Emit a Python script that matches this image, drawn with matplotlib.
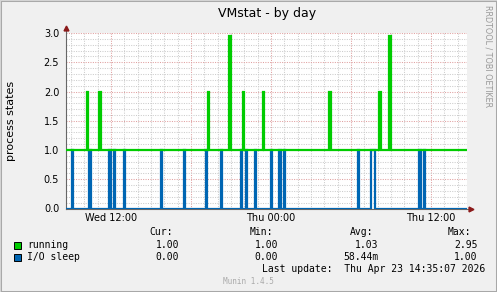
import numpy as np
import matplotlib
matplotlib.use('Agg')
import matplotlib.pyplot as plt
from matplotlib.patches import Rectangle

W, H = 497, 292

# time axis in hours since Wed 00:00
t_start, t_end = 8.59, 38.70
tick_hours = [12, 24, 36]
tick_labels = ['Wed 12:00', 'Thu 00:00', 'Thu 12:00']
y_ticks = [0.0, 0.5, 1.0, 1.5, 2.0, 2.5, 3.0]

running_base = 1.0
running_spike_at = [10.27, 11.20, 19.37, 20.90, 21.94, 23.44, 28.46, 32.14, 32.89]
running_spike_val = [2.0, 2.0, 2.0, 2.95, 2.0, 2.0, 2.0, 2.0, 2.95]

iosleep_base = 0.0
iosleep_spike_at = [9.11, 10.39, 11.89, 12.23, 13.01, 15.79, 17.51, 19.20, 20.29,
                    21.77, 22.19, 22.84, 24.04, 24.64, 25.01, 30.56, 31.65, 35.14, 35.49]
iosleep_spike_val = [1.0] * 19
iosleep_spike_len = [1, 1, 1, 1, 1, 1, 1, 1, 1, 1, 1, 1, 1, 1, 1, 1, 4, 1, 1]

names = ['running', 'I/O sleep']
colors = ['#00CC00', '#0066B3']
cur = ['1.00', '0.00']
mins = ['1.00', '0.00']
avgs = ['1.03', '58.44m']
maxs = ['2.95', '1.00']

step = 5 / 60.0
t = np.arange(t_start, t_end + step, step)


def series(base, at, val, length=None):
    y = np.full(len(t), base)
    for k, h in enumerate(at):
        n = 1 if length is None else length[k]
        i = int(np.argmin(np.abs(t - h))) - n // 2
        y[i:i + n] = val[k]
    return y


running = series(running_base, running_spike_at, running_spike_val)
iosleep = series(iosleep_base, iosleep_spike_at, iosleep_spike_val, iosleep_spike_len)


def fx(x):
    return x / W


def fy(y):
    return 1 - y / H


fig = plt.figure(figsize=(W / 100, H / 100), dpi=100, facecolor='#F0F0F0')

# 3d-ish frame
fig.patches.append(Rectangle((0, 0), 1, 1, transform=fig.transFigure, fill=False,
                             edgecolor='#a8a8a8', lw=2.2, zorder=0))
fig.add_artist(plt.Line2D([0, 0], [0, 1], transform=fig.transFigure, color='#d4d4d4', lw=1.5))
fig.add_artist(plt.Line2D([0, 1], [1, 1], transform=fig.transFigure, color='#d4d4d4', lw=1.5))

ax = fig.add_axes([fx(65.5), fy(208.5), fx(467 - 65.5), (208.5 - 33) / H])
ax.set_facecolor('white')
for s in ax.spines.values():
    s.set_visible(False)

for h in range(9, 39):
    c = '#e0a0a0' if h % 6 == 0 else '#cccccc'
    ax.axvline(h, color=c, lw=0.75, ls=(0, (1, 1.3)), zorder=1)
for k in range(1, 31):
    c = '#e0a0a0' if k % 5 == 0 else '#cccccc'
    ax.axhline(k / 10, color=c, lw=0.75, ls=(0, (1, 1.3)), zorder=1)

ax.plot(t, iosleep, drawstyle='steps-mid', color=colors[1], lw=1.6, zorder=3,
        solid_joinstyle='miter')
ax.plot(t, running, drawstyle='steps-mid', color=colors[0], lw=1.6, zorder=4,
        solid_joinstyle='miter')

ax.set_xlim(t_start, t_end)
ax.set_ylim(0, 3.0)

# axes with arrows
ax.plot([t_start, t_start], [0, 3.08], color='#666666', lw=0.8, clip_on=False, zorder=2)
ax.plot([t_start, t_end + 0.3], [0, 0], color='#666666', lw=0.8, clip_on=False, zorder=2)
ax.plot([t_start], [3.09], marker='^', color='#8b1a1a', ms=3.5, clip_on=False, zorder=5)
ax.plot([t_end + 0.33], [0], marker='>', color='#8b1a1a', ms=3.5, clip_on=False, zorder=5)

ax.set_xticks(tick_hours)
ax.set_xticklabels(tick_labels)
ax.set_yticks(y_ticks)
ax.set_yticklabels(['%.1f' % v for v in y_ticks])
ax.tick_params(axis='both', length=0, labelsize=7, colors='#000000')
ax.tick_params(axis='y', pad=4.5)
ax.tick_params(axis='x', pad=3.5)
ax.set_ylabel('process states', fontsize=8)
ax.yaxis.set_label_coords((16 - 65.5) / 401.5, 0.5)

fig.text(fx(267), fy(13), 'VMstat - by day', ha='center', va='center', fontsize=9)
fig.text(fx(488), fy(5), 'RRDTOOL / TOBI OETIKER', rotation=270, ha='center', va='top',
         fontsize=5.8, color='#999999')

mono = dict(family='DejaVu Sans Mono', fontsize=7, va='center')
fig.text(fx(149.5), fy(232), 'Cur:', **mono)
fig.text(fx(250), fy(232), 'Min:', **mono)
fig.text(fx(349.5), fy(232), 'Avg:', **mono)
fig.text(fx(447.5), fy(232), 'Max:', **mono)
rows = [245, 257.5]
for i in range(2):
    y = rows[i]
    fig.patches.append(Rectangle((fx(13.5), fy(y + 3.5)), 7 / W, 7 / H, transform=fig.transFigure,
                                 facecolor=colors[i], edgecolor='black', lw=0.7))
    fig.text(fx(27), fy(y), names[i], **mono)
    fig.text(fx(179), fy(y), cur[i], ha='right', **mono)
    fig.text(fx(278), fy(y), mins[i], ha='right', **mono)
    fig.text(fx(378.5), fy(y), avgs[i], ha='right', **mono)
    fig.text(fx(477.5), fy(y), maxs[i], ha='right', **mono)
fig.text(fx(262), fy(268.5), 'Last update:  Thu Apr 23 14:35:07 2026', **mono)
fig.text(fx(248), fy(282), 'Munin 1.4.5', family='DejaVu Sans Mono', fontsize=5.5,
         color='#aaaaaa', ha='center', va='center')

fig.savefig('out.png', dpi=100, facecolor=fig.get_facecolor())
